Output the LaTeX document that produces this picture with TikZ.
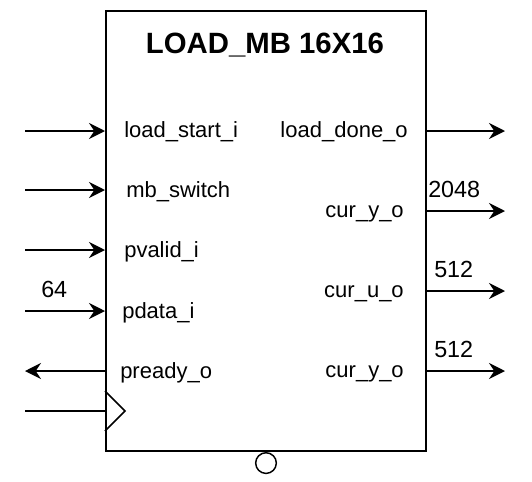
\documentclass[tikz,border=0pt]{standalone}
\usepackage{fontspec}
\setmainfont{Liberation Sans}
\usetikzlibrary{arrows.meta}
\tikzset{
  sig/.style={line width=1.5pt, -{Stealth[length=12pt,width=12pt,inset=4pt]}},
  wire/.style={line width=1.5pt},
  pin/.style={font=\fontsize{16.5}{18}\selectfont, inner sep=0pt},
  bus/.style={font=\fontsize{17.5}{19}\selectfont, inner sep=0pt},
}
\begin{document}
\begin{tikzpicture}[x=0.75pt,y=-0.75pt]
\useasboundingbox (0,0) rectangle (532,482);

\node[draw, line width=1.5pt, inner sep=0pt, minimum width=240pt, minimum height=330pt, anchor=north west] (mb) at (105,10) {};
\node[font=\fontsize{22}{24}\selectfont\bfseries, inner sep=0pt, anchor=base] (title) at (265,53) {LOAD\_MB 16X16};

% inputs
\coordinate (ls0) at (25,131);  \coordinate (ls1) at (105,131);
\coordinate (sw0) at (25,190);  \coordinate (sw1) at (105,190);
\coordinate (pv0) at (25,250);  \coordinate (pv1) at (105,250);
\coordinate (pd0) at (25,311);  \coordinate (pd1) at (105,311);
\coordinate (pr0) at (25,371);  \coordinate (pr1) at (105,371);
\coordinate (ck0) at (25,411);  \coordinate (ck1) at (105,411);

\draw[sig] (ls0) -- (ls1);
\draw[sig] (sw0) -- (sw1);
\draw[sig] (pv0) -- (pv1);
\draw[sig] (pd0) -- (pd1);
\draw[sig] (pr1) -- (pr0);
\draw[wire] (ck0) -- (ck1);

\node[pin, anchor=base west] (lsl) at (124,137) {load\_start\_i};
\node[pin, anchor=base west] (swl) at (126,197) {mb\_switch};
\node[pin, anchor=base west] (pvl) at (124,257) {pvalid\_i};
\node[pin, anchor=base west] (pdl) at (122,318) {pdata\_i};
\node[pin, anchor=base west] (prl) at (120,378) {pready\_o};
\node[bus, anchor=base west] (pdw) at (41,297) {64};

% clock
\coordinate (ckt) at (105,391);
\coordinate (ckm) at (125,411);
\coordinate (ckb) at (105,431);
\draw[line width=1.1pt] (ckt) -- (ckm) -- (ckb);

% outputs
\coordinate (ld0) at (425,131);  \coordinate (ld1) at (505,131);
\coordinate (cy0) at (425,211);  \coordinate (cy1) at (505,211);
\coordinate (cu0) at (425,291);  \coordinate (cu1) at (505,291);
\coordinate (cv0) at (425,371);  \coordinate (cv1) at (505,371);

\draw[sig] (ld0) -- (ld1);
\draw[sig] (cy0) -- (cy1);
\draw[sig] (cu0) -- (cu1);
\draw[sig] (cv0) -- (cv1);

\node[pin, anchor=base east] (ldl) at (408,137) {load\_done\_o};
\node[pin, anchor=base east] (cyl) at (404,217) {cur\_y\_o};
\node[pin, anchor=base east] (cul) at (404,297) {cur\_u\_o};
\node[pin, anchor=base east] (cvl) at (404,377) {cur\_y\_o};
\node[bus, anchor=base west] (cyw) at (428,197) {2048};
\node[bus, anchor=base west] (cuw) at (434,277) {512};
\node[bus, anchor=base west] (cvw) at (434,357) {512};

% reset bubble
\node[draw, circle, line width=1.1pt, inner sep=0pt, minimum size=15.5pt, anchor=north] (rst) at (mb.south) {};
\end{tikzpicture}
\end{document}
